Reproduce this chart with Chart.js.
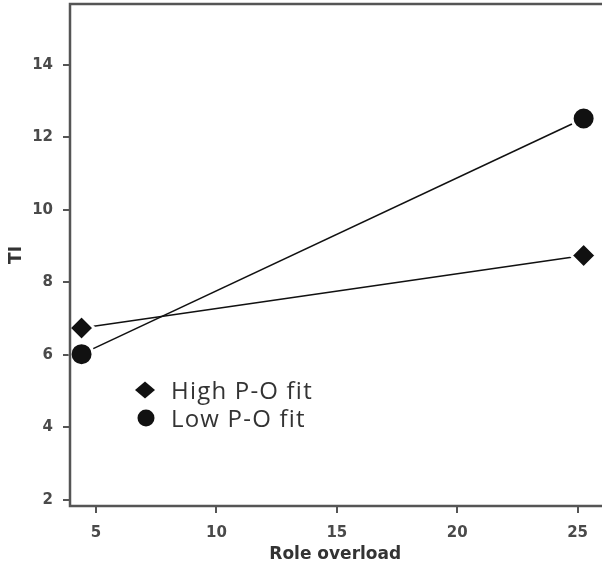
<!DOCTYPE html>
<html>
<head>
<meta charset="utf-8">
<script src="https://cdn.jsdelivr.net/npm/chart.js@4/dist/chart.umd.min.js"></script>
<style>
    html, body { margin: 0; padding: 0; background: #fff; overflow: hidden; }
    #wrap { width: 602px; height: 569px; overflow: hidden; position: relative; }
    /* canvas is a bit larger than the page: Chart.js keeps room for the edge labels,
       the reference plot runs right up to the top and right edges */
    #chart { position: absolute; left: 0; top: -15px; }
</style>
</head>
<body>
<div id="wrap"><canvas id="chart" width="616" height="584"></canvas></div>
<script>
const seriesNames = ['High P-O fit', 'Low P-O fit'];
const roleOverload = [4.4, 25.25];
const highFit = [6.74, 8.74];
const lowFit = [6.02, 12.52];
const xTicks = [5, 10, 15, 20, 25];
const yTicks = [2, 4, 6, 8, 10, 12, 14];

const axisColor = '#555';
const labelColor = '#4a4a4a';
const shiftY = 15;

const toPoints = (ys) => roleOverload.map((x, i) => ({ x: x, y: ys[i] }));

// frame (left, top, bottom) drawn after the markers so the white rings don't eat it
const framePlugin = {
    id: 'frame',
    afterDatasetsDraw(chart) {
        const { ctx, chartArea } = chart;
        ctx.save();
        ctx.strokeStyle = axisColor;
        ctx.lineWidth = 2.5;
        ctx.beginPath();
        ctx.moveTo(chartArea.right + 2, chartArea.top);
        ctx.lineTo(chartArea.left, chartArea.top);
        ctx.lineTo(chartArea.left, chartArea.bottom);
        ctx.lineTo(chartArea.right + 2, chartArea.bottom);
        ctx.stroke();
        ctx.restore();
    }
};

// legend sits inside the plot, lower left
const insideLegend = {
    id: 'insideLegend',
    afterDraw(chart) {
        const { ctx } = chart;
        const rows = [390 + shiftY, 418 + shiftY];
        ctx.save();
        chart.data.datasets.forEach((ds, i) => {
            const y = rows[i];
            ctx.fillStyle = '#111';
            ctx.beginPath();
            if (ds.pointStyle === 'rectRot') {
                ctx.moveTo(145, y - 8.5);
                ctx.lineTo(155, y);
                ctx.lineTo(145, y + 8.5);
                ctx.lineTo(135, y);
                ctx.closePath();
            } else {
                ctx.arc(146, y, 8.5, 0, Math.PI * 2);
            }
            ctx.fill();
            ctx.fillStyle = '#333';
            ctx.font = '24px "Open Sans"';
            ctx.letterSpacing = '1.2px';
            ctx.textBaseline = 'alphabetic';
            ctx.fillText(ds.label, 171, y + 8.5);
        });
        ctx.restore();
    }
};

const ctx = document.getElementById('chart').getContext('2d');
new Chart(ctx, {
    type: 'line',
    data: {
        datasets: [
            {
                label: seriesNames[0],
                data: toPoints(highFit),
                borderColor: '#111',
                borderWidth: 1.6,
                pointStyle: 'rectRot',
                pointRadius: 12.5,
                pointBackgroundColor: '#111',
                pointBorderColor: '#fff',
                pointBorderWidth: 3,
                clip: false,
            },
            {
                label: seriesNames[1],
                data: toPoints(lowFit),
                borderColor: '#111',
                borderWidth: 1.6,
                pointStyle: 'circle',
                pointRadius: 11.5,
                pointBackgroundColor: '#111',
                pointBorderColor: '#fff',
                pointBorderWidth: 3,
                clip: false,
            },
        ],
    },
    options: {
        responsive: false,
        animation: false,
        layout: { padding: 0 },
        plugins: {
            legend: { display: false },
            tooltip: { enabled: false },
        },
        scales: {
            x: {
                type: 'linear',
                min: 3.92,
                max: 25.95,
                afterBuildTicks: (scale) => { scale.ticks = xTicks.map(v => ({ value: v })); },
                afterFit: (scale) => { scale.height = 63; },
                grid: { drawOnChartArea: false, drawTicks: true, tickLength: 7, color: axisColor, lineWidth: 2 },
                border: { display: false },
                ticks: {
                    padding: 11,
                    maxRotation: 0,
                    color: labelColor,
                    font: { family: 'DejaVu Sans', size: 15, weight: 'bold' },
                },
                title: {
                    display: true,
                    text: 'Role overload',
                    color: '#333',
                    padding: { top: 0, bottom: 4 },
                    font: { family: 'DejaVu Sans', size: 17, weight: 'bold' },
                },
            },
            y: {
                min: 1.83,
                max: 15.68,
                afterBuildTicks: (scale) => { scale.ticks = yTicks.map(v => ({ value: v })); },
                afterFit: (scale) => { scale.width = 70; },
                grid: { drawOnChartArea: false, drawTicks: true, tickLength: 7, color: axisColor, lineWidth: 2 },
                border: { display: false },
                ticks: {
                    padding: 10,
                    color: labelColor,
                    font: { family: 'DejaVu Sans', size: 15, weight: 'bold' },
                },
                title: {
                    display: true,
                    text: 'TI',
                    color: '#333',
                    padding: { top: 6, bottom: 0 },
                    font: { family: 'DejaVu Sans', size: 17, weight: 'bold' },
                },
            },
        },
    },
    plugins: [framePlugin, insideLegend],
});
</script>
</body>
</html>
